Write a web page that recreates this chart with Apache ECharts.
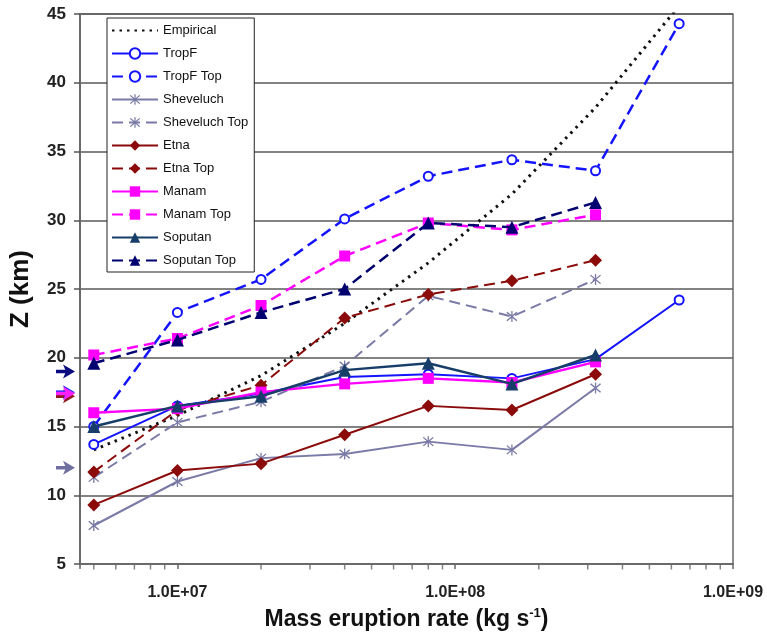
<!DOCTYPE html>
<html><head><meta charset="utf-8">
<script src="https://cdn.jsdelivr.net/npm/echarts@6/dist/echarts.min.js"></script>
<style>html,body{margin:0;padding:0;background:#fff}#c{width:767px;height:637px}</style>
</head><body><div id="c"></div>
<script>
// ---- data ----
const massRates = [5e6, 1e7, 2e7, 4e7, 8e7, 1.6e8, 3.2e8, 6.4e8];
const empirical    = [13.3, 15.8, 18.7, 22.5, 26.9, 31.9, 38.2, 45.6];
const tropF        = [13.7, 16.5, 17.4, 18.6, 18.8, 18.5, 19.9, 24.2];
const tropFTop     = [15.0, 23.3, 25.7, 30.1, 33.2, 34.4, 33.6, 44.3];
const sheveluch    = [7.8, 11.0, 12.7, 13.0, 13.9, 13.3, 17.8, null];
const sheveluchTop = [11.3, 15.3, 16.8, 19.4, 24.5, 23.0, 25.7, null];
const etna         = [9.3, 11.8, 12.3, 14.4, 16.5, 16.2, 18.8, null];
const etnaTop      = [11.7, 16.2, 18.0, 22.9, 24.6, 25.6, 27.1, null];
const manam        = [16.0, 16.3, 17.5, 18.1, 18.5, 18.2, 19.7, null];
const manamTop     = [20.2, 21.4, 23.8, 27.4, 29.8, 29.3, 30.4, null];
const soputan      = [15.0, 16.5, 17.2, 19.1, 19.6, 18.1, 20.2, null];
const soputanTop   = [19.6, 21.3, 23.3, 25.0, 29.8, 29.5, 31.3, null];
const seriesNames = ['Empirical','TropF','TropF Top','Sheveluch','Sheveluch Top','Etna','Etna Top','Manam','Manam Top','Soputan','Soputan Top'];
const seriesValues = [empirical, tropF, tropFTop, sheveluch, sheveluchTop, etna, etnaTop, manam, manamTop, soputan, soputanTop];
const xTickLabels = ['1.0E+07', '1.0E+08', '1.0E+09'];
const xMinorTicks = [5e6,6e6,7e6,8e6,9e6, 2e7,3e7,4e7,5e7,6e7,7e7,8e7,9e7, 2e8,3e8,4e8,5e8,6e8,7e8,8e8,9e8];
const yMin = 5, yMax = 45, yStep = 5;
const xMin = 4.46e6, xMax = 1e9;
const arrowMarks = [
  {value: 19.0, color: '#0a0a80'},
  {value: 17.2, color: '#8b1a1a'},
  {value: 17.5, color: '#2a2aff'},
  {value: 17.4, color: '#ff20ff'},
  {value: 12.0, color: '#7070a0'}
];

// ---- styles ----
const asterisk = 'path://M9,0L11,0L11,20L9,20Z M1.5,3L3,1.5L18.5,17L17,18.5Z M17,1.5L18.5,3L3,18.5L1.5,17Z';
const styles = {
  'Empirical':     {color:'#111111', type:[2.5,5], width:3, symbol:'none', size:0},
  'TropF':         {color:'#1414ff', type:'solid', width:2, symbol:'emptyCircle', size:9},
  'TropF Top':     {color:'#1414ff', type:[11,6], width:2.5, symbol:'emptyCircle', size:9},
  'Sheveluch':     {color:'#7a7aa6', type:'solid', width:2, symbol:asterisk, size:11},
  'Sheveluch Top': {color:'#7a7aa6', type:[11,6], width:2, symbol:asterisk, size:11},
  'Etna':          {color:'#8b0a0a', type:'solid', width:2, symbol:'diamond', size:13},
  'Etna Top':      {color:'#8b0a0a', type:[11,6], width:2, symbol:'diamond', size:13},
  'Manam':         {color:'#ff00ff', type:'solid', width:2.5, symbol:'rect', size:11},
  'Manam Top':     {color:'#ff00ff', type:[11,6], width:2.5, symbol:'rect', size:11},
  'Soputan':       {color:'#173e68', type:'solid', width:2.5, symbol:'triangle', size:13},
  'Soputan Top':   {color:'#000070', type:[11,6], width:2.5, symbol:'triangle', size:13}
};
const FONT = 'Liberation Sans, Arial, sans-serif';

const chart = echarts.init(document.getElementById('c'), null, {renderer:'canvas'});
const lineSeries = seriesNames.map((name, i) => {
  const s = styles[name];
  const data = [];
  massRates.forEach((x, j) => { if (seriesValues[i][j] != null) data.push([x, seriesValues[i][j]]); });
  return {
    name, type:'line', data,
    symbol: s.symbol, symbolSize: s.size, showSymbol: s.symbol !== 'none',
    lineStyle: {color: s.color, type: s.type, width: s.width},
    itemStyle: {color: s.color, borderColor: s.color, borderWidth: s.symbol === 'emptyCircle' ? 1.3 : 0},
    emphasis: {disabled: true}, animation: false, z: 3 + i
  };
});
lineSeries.push({
  name: 'minorTicks', type: 'scatter', silent: true, clip: false, animation: false,
  data: xMinorTicks.map(v => [v, yMin]),
  symbol: 'rect', symbolSize: [1.5, 5], symbolOffset: [0, 3],
  itemStyle: {color: '#666'}, z: 1
});

const legendData = seriesNames.map(n => n === 'Empirical' ? {name: n, itemStyle: {opacity: 0}} : {name: n});

chart.setOption({
  backgroundColor: '#ffffff',
  animation: false,
  grid: {left: 77, right: 34, top: 14, bottom: 73, show: true, borderColor: '#6a6a6a', borderWidth: 1.5, backgroundColor: '#fff'},
  legend: {
    data: legendData, orient: 'vertical', left: 107, top: 18,
    itemWidth: 46, itemHeight: 13, itemGap: 10,
    padding: [6, 6, 5, 4],
    backgroundColor: '#fff', borderColor: '#222', borderWidth: 1,
    textStyle: {fontFamily: FONT, fontSize: 13, color: '#111'},
    selectedMode: false
  },
  xAxis: {
    type: 'log', logBase: 10, min: xMin, max: xMax,
    axisLine: {show: true, lineStyle: {color: '#6a6a6a', width: 2}},
    axisTick: {show: true, length: 5, lineStyle: {color: '#666', width: 1.5}},
    splitLine: {show: false},
    axisLabel: {
      margin: 21, fontFamily: FONT, fontSize: 16, fontWeight: 'bold', color: '#222',
      formatter: v => {
        const e = Math.log10(v);
        if (Math.abs(e - Math.round(e)) > 1e-6) return '';
        const lbl = '1.0E+' + String(Math.round(e)).padStart(2, '0');
        return xTickLabels.includes(lbl) ? lbl : '';
      }
    },
    name: '{a|Mass eruption rate (kg s}{sup|-1}{a|)}',
    nameLocation: 'middle', nameGap: 43,
    nameTextStyle: {
      rich: {
        a: {fontFamily: FONT, fontSize: 23, fontWeight: 'bold', color: '#111', verticalAlign: 'bottom'},
        sup: {fontFamily: FONT, fontSize: 13, fontWeight: 'bold', color: '#111', verticalAlign: 'top', padding: [0, 0, 11, 0]}
      }
    }
  },
  yAxis: {
    type: 'value', min: yMin, max: yMax, interval: yStep,
    axisLine: {show: true, lineStyle: {color: '#6a6a6a', width: 2}},
    axisTick: {show: true, length: 6, lineStyle: {color: '#555', width: 1.5}},
    splitLine: {show: true, lineStyle: {color: '#5a5a5a', width: 1.5}},
    axisLabel: {margin: 14, fontFamily: FONT, fontSize: 17, fontWeight: 'bold', color: '#222'},
    name: 'Z (km)', nameLocation: 'middle', nameGap: 46, nameRotate: 90,
    nameTextStyle: {fontFamily: FONT, fontSize: 26, fontWeight: 'bold', color: '#111'}
  },
  series: lineSeries
});

// arrows on the left of the y axis
const graphics = arrowMarks.map(a => {
  const y = chart.convertToPixel({yAxisIndex: 0}, a.value);
  return {
    type: 'group', z: 100,
    children: [
      {type: 'line', shape: {x1: 56, y1: y, x2: 70, y2: y}, style: {stroke: a.color, lineWidth: 3.5}},
      {type: 'polygon', shape: {points: [[63, y - 7], [75, y], [63, y + 7], [66, y]]}, style: {fill: a.color}}
    ]
  };
});
chart.setOption({graphic: graphics});
</script>
</body></html>
